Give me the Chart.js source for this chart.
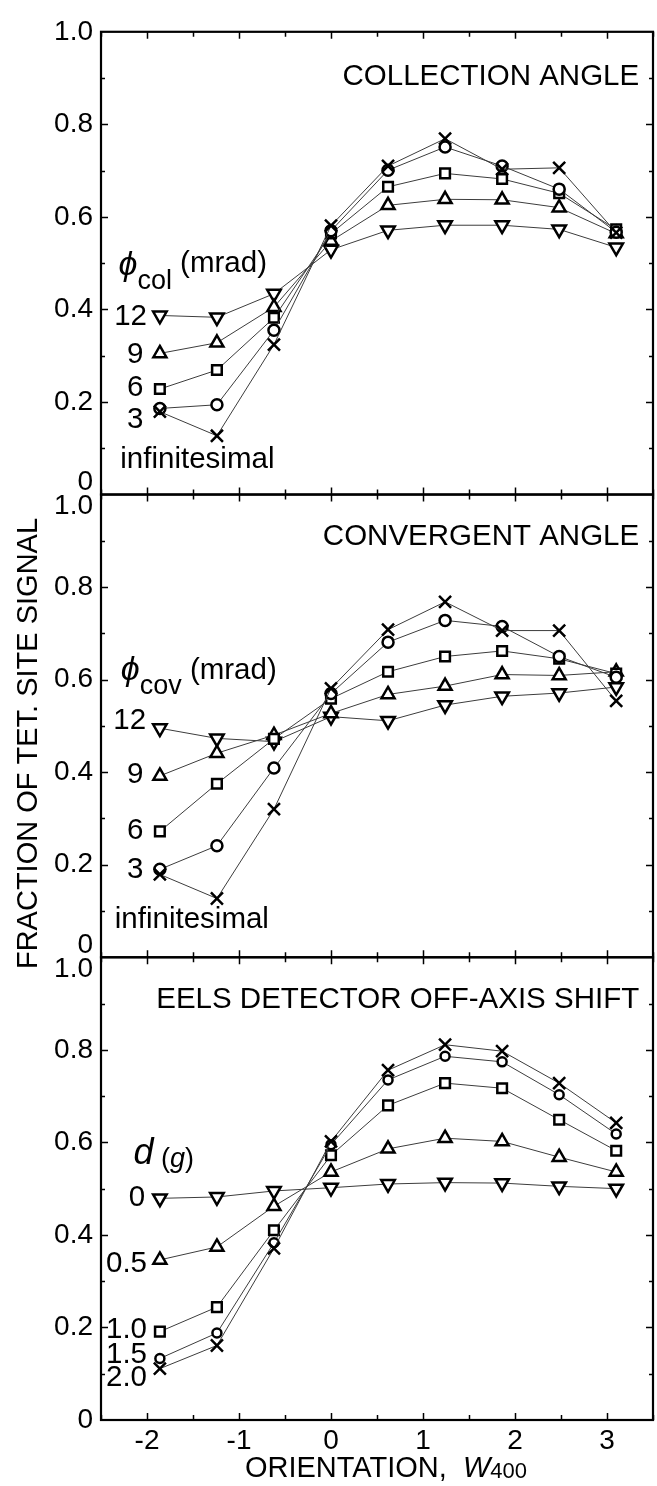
<!DOCTYPE html>
<html>
<head>
<meta charset="utf-8">
<script src="https://cdn.jsdelivr.net/npm/chart.js@4.4.0/dist/chart.umd.min.js"></script>
<style>
  html, body { margin: 0; padding: 0; background: #fff; overflow: hidden; }
  #wrap { width: 664px; height: 1486px; }
</style>
</head>
<body>
<div id="wrap"><canvas id="chart" width="664" height="1486"></canvas></div>
<script>
// orientation W400 at which every curve was computed
const orientation = [-1.86, -1.24, -0.62, 0, 0.62, 1.24, 1.86, 2.48, 3.10];

// collection angle, phi_col in mrad
const colInf = [0.179, 0.127, 0.324, 0.581, 0.710, 0.769, 0.703, 0.706, 0.566];
const col3   = [0.186, 0.194, 0.355, 0.570, 0.701, 0.751, 0.710, 0.660, 0.567];
const col6   = [0.228, 0.269, 0.382, 0.564, 0.665, 0.694, 0.682, 0.651, 0.573];
const col9   = [0.305, 0.328, 0.405, 0.548, 0.625, 0.638, 0.637, 0.620, 0.564];
const col12  = [0.387, 0.383, 0.434, 0.529, 0.571, 0.582, 0.582, 0.573, 0.534];

// convergent angle, phi_cov in mrad
const covInf = [0.179, 0.127, 0.320, 0.581, 0.708, 0.768, 0.706, 0.706, 0.554];
const cov3   = [0.190, 0.241, 0.409, 0.570, 0.681, 0.728, 0.715, 0.650, 0.605];
const cov6   = [0.272, 0.375, 0.472, 0.559, 0.617, 0.650, 0.662, 0.645, 0.613];
const cov9   = [0.392, 0.441, 0.480, 0.527, 0.568, 0.586, 0.611, 0.609, 0.617];
const cov12  = [0.495, 0.473, 0.466, 0.520, 0.511, 0.545, 0.564, 0.571, 0.584];

// EELS detector off-axis shift, d in units of g
const shift0  = [0.479, 0.482, 0.495, 0.502, 0.510, 0.513, 0.512, 0.505, 0.500];
const shift05 = [0.346, 0.374, 0.462, 0.536, 0.586, 0.609, 0.602, 0.568, 0.536];
const shift10 = [0.191, 0.244, 0.410, 0.572, 0.680, 0.728, 0.717, 0.649, 0.582];
const shift15 = [0.133, 0.188, 0.383, 0.595, 0.735, 0.786, 0.774, 0.703, 0.618];
const shift20 = [0.111, 0.161, 0.371, 0.602, 0.756, 0.811, 0.797, 0.728, 0.642];

const xTickLabels = ['-2', '-1', '0', '1', '2', '3'];
const yTickLabels = ['0', '0.2', '0.4', '0.6', '0.8', '1.0'];

const FONT = "'Liberation Sans', Arial, sans-serif";

function series(values, yAxisID, pointStyle, radius, rotation) {
  return {
    yAxisID,
    data: orientation.map((x, i) => ({ x, y: values[i] })),
    borderColor: '#3c3c3c',
    borderWidth: 1,
    pointStyle,
    pointRadius: radius,
    pointRotation: rotation || 0,
    pointBorderColor: '#000',
    pointBorderWidth: 2.5,
    pointBackgroundColor: '#fff',
    tension: 0,
    fill: false
  };
}

function markerSet(list, yAxisID, circle) {
  return [
    series(list[0], yAxisID, 'crossRot', 8.5),
    series(list[1], yAxisID, 'circle', circle),
    series(list[2], yAxisID, 'rect', 6.8),
    series(list[3], yAxisID, 'triangle', 7.5),
    series(list[4], yAxisID, 'triangle', 7.8, 180)
  ];
}

// y tick labels every 0.2; 0 and 1.0 nudged apart where panels meet
function yLabel(shiftTop, shiftBottom) {
  return v => {
    const k = Math.round(v * 10);
    if (k % 2) return '';
    const txt = yTickLabels[k / 2];
    if (k === 0 && shiftBottom) return [txt, ''];
    if (k === 10 && shiftTop) return ['', txt];
    return txt;
  };
}

function panelScale(shiftTop, shiftBottom) {
  return {
    type: 'linear',
    position: 'left',
    stack: 'panels',
    stackWeight: 1,
    min: 0,
    max: 1,
    grid: { display: false, drawTicks: false },
    border: { display: false },
    ticks: {
      stepSize: 0.1,
      autoSkip: false,
      padding: 8,
      color: '#000',
      font: { family: FONT, size: 28, lineHeight: 0.85 },
      callback: yLabel(shiftTop, shiftBottom)
    },
    afterFit: s => { s.width = 101; }
  };
}

const TITLE = '29.5px ' + FONT;
const TEXT = '29.5px ' + FONT;

const notes = [
  { panel: 'yTop', x: 3.35, y: 0.903, align: 'right', runs: [['COLLECTION ANGLE', TITLE, 0]] },
  { panel: 'yTop', x: -2.31, y: 0.495, runs: [['\u03D5', 'italic 34px ' + FONT, 0], ['col', '27px ' + FONT, 16], [' (mrad)', TEXT, -2]] },
  { panel: 'yTop', x: -2.0, y: 0.383, align: 'right', runs: [['12', TEXT, 0]] },
  { panel: 'yTop', x: -2.04, y: 0.301, align: 'right', runs: [['9', TEXT, 0]] },
  { panel: 'yTop', x: -2.04, y: 0.230, align: 'right', runs: [['6', TEXT, 0]] },
  { panel: 'yTop', x: -2.04, y: 0.161, align: 'right', runs: [['3', TEXT, 0]] },
  { panel: 'yTop', x: -2.29, y: 0.075, runs: [['infinitesimal', TEXT, 0]] },

  { panel: 'yMid', x: 3.35, y: 0.908, align: 'right', runs: [['CONVERGENT ANGLE', TITLE, 0]] },
  { panel: 'yMid', x: -2.285, y: 0.619, runs: [['\u03D5', 'italic 34px ' + FONT, 0], ['cov', '27px ' + FONT, 16], [' (mrad)', TEXT, 0]] },
  { panel: 'yMid', x: -2.01, y: 0.510, align: 'right', runs: [['12', TEXT, 0]] },
  { panel: 'yMid', x: -2.04, y: 0.394, align: 'right', runs: [['9', TEXT, 0]] },
  { panel: 'yMid', x: -2.04, y: 0.273, align: 'right', runs: [['6', TEXT, 0]] },
  { panel: 'yMid', x: -2.04, y: 0.189, align: 'right', runs: [['3', TEXT, 0]] },
  { panel: 'yMid', x: -2.35, y: 0.080, runs: [['infinitesimal', TEXT, 0]] },

  { panel: 'yBot', x: 3.35, y: 0.908, align: 'right', runs: [['EELS DETECTOR OFF-AXIS SHIFT', TITLE, 0]] },
  { panel: 'yBot', x: -2.147, y: 0.574, runs: [['d', 'italic 36px ' + FONT, 0], [' (', '27px ' + FONT, 5], ['g', 'italic 27px ' + FONT, 5], [')', '27px ' + FONT, 5]] },
  { panel: 'yBot', x: -2.02, y: 0.480, align: 'right', runs: [['0', TEXT, 0]] },
  { panel: 'yBot', x: -2.0, y: 0.338, align: 'right', runs: [['0.5', TEXT, 0]] },
  { panel: 'yBot', x: -2.0, y: 0.194, align: 'right', runs: [['1.0', TEXT, 0]] },
  { panel: 'yBot', x: -2.0, y: 0.140, align: 'right', runs: [['1.5', TEXT, 0]] },
  { panel: 'yBot', x: -2.0, y: 0.090, align: 'right', runs: [['2.0', TEXT, 0]] }
];

function drawRuns(ctx, runs, x, y, align) {
  let total = 0;
  runs.forEach(r => { ctx.font = r[1]; total += ctx.measureText(r[0]).width; });
  let cx = align === 'right' ? x - total : x;
  ctx.textAlign = 'left';
  ctx.textBaseline = 'middle';
  runs.forEach(r => {
    ctx.font = r[1];
    ctx.fillText(r[0], cx, y + r[2]);
    cx += ctx.measureText(r[0]).width;
  });
}

// panel frames with inward ticks on all four sides
const framePlugin = {
  id: 'frame',
  afterDatasetsDraw(chart) {
    const ctx = chart.ctx;
    const xs = chart.scales.x;
    const left = xs.left, right = xs.right;
    ctx.save();
    ctx.strokeStyle = '#000';
    ['yTop', 'yMid', 'yBot'].forEach(id => {
      const ys = chart.scales[id];
      const top = ys.top, bottom = ys.bottom;
      ctx.lineWidth = 1.5;
      ctx.beginPath();
      xs.ticks.forEach(t => {
        const px = Math.round(xs.getPixelForValue(t.value)) + 0.5;
        const len = Math.abs(t.value - Math.round(t.value)) < 1e-6 ? 7 : 5;
        ctx.moveTo(px, top); ctx.lineTo(px, top + len);
        ctx.moveTo(px, bottom); ctx.lineTo(px, bottom - len);
      });
      ys.ticks.forEach(t => {
        const k = Math.round(t.value * 10);
        if (k === 0 || k === 10) return;
        const py = Math.round(ys.getPixelForValue(t.value)) + 0.5;
        const len = k % 2 ? 4 : 7;
        ctx.moveTo(left, py); ctx.lineTo(left + len, py);
        ctx.moveTo(right, py); ctx.lineTo(right - len, py);
      });
      ctx.stroke();
      ctx.lineWidth = 2.2;
      ctx.strokeRect(left, top, right - left, bottom - top);
    });
    ctx.restore();
  },
  afterDraw(chart) {
    const ctx = chart.ctx;
    const xs = chart.scales.x;
    ctx.save();
    ctx.fillStyle = '#000';
    notes.forEach(n => {
      const px = xs.getPixelForValue(n.x);
      const py = chart.scales[n.panel].getPixelForValue(n.y);
      drawRuns(ctx, n.runs, px, py, n.align);
    });

    // axis titles
    const cxTitle = (xs.left + xs.right) / 2;
    drawRuns(ctx, [['ORIENTATION,  ', '29px ' + FONT, 0], ['W', 'italic 29px ' + FONT, 0], ['400', '22px ' + FONT, 3]],
      cxTitle + 150, xs.bottom - 17, 'right');

    const mid = chart.scales.yMid;
    ctx.translate(chart.chartArea.left - 72, mid.getPixelForValue(0.462));
    ctx.rotate(-Math.PI / 2);
    ctx.font = '29px ' + FONT;
    ctx.textAlign = 'center';
    ctx.textBaseline = 'middle';
    ctx.fillText('FRACTION OF TET. SITE SIGNAL', 0, 0);
    ctx.restore();
  }
};

new Chart(document.getElementById('chart').getContext('2d'), {
  type: 'line',
  data: {
    datasets: [
      ...markerSet([colInf, col3, col6, col9, col12], 'yTop', 5.5),
      ...markerSet([covInf, cov3, cov6, cov9, cov12], 'yMid', 5.5),
      ...markerSet([shift20, shift15, shift10, shift05, shift0], 'yBot', 4.5)
    ]
  },
  options: {
    responsive: false,
    animation: false,
    layout: { padding: { top: 25, right: 3, left: 0, bottom: 0 } },
    plugins: { legend: { display: false }, tooltip: { enabled: false } },
    scales: {
      x: {
        type: 'linear',
        min: -2.5,
        max: 3.5,
        grid: { display: false, drawTicks: false },
        border: { display: false },
        ticks: {
          stepSize: 0.5,
          autoSkip: false,
          maxRotation: 0,
          padding: 4,
          color: '#000',
          font: { family: FONT, size: 28 },
          callback: v => {
            const i = xTickLabels.indexOf(String(v));
            return i >= 0 ? xTickLabels[i] : '';
          }
        },
        afterFit: s => { s.height = 66; }
      },
      // stacked panels: the last one listed sits on top
      yBot: panelScale(true, false),
      yMid: panelScale(true, true),
      yTop: panelScale(false, true)
    }
  },
  plugins: [framePlugin]
});
</script>
</body>
</html>
